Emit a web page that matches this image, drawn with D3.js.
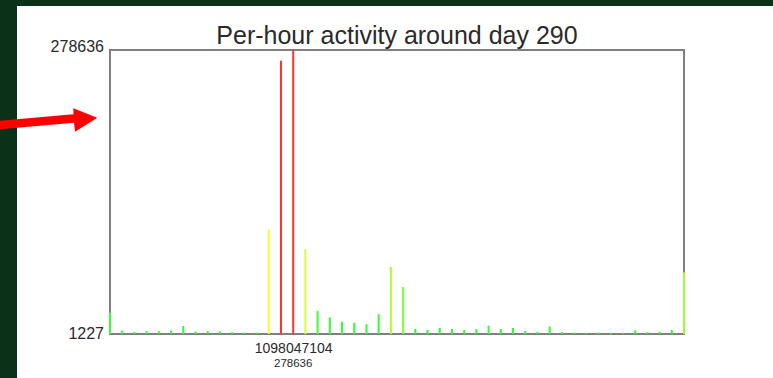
<!DOCTYPE html>
<html>
<head>
<meta charset="utf-8">
<script src="https://cdn.jsdelivr.net/npm/d3@7/dist/d3.min.js"></script>
<style>
  html, body { margin: 0; padding: 0; background: #0b3219; }
  svg { display: block; }
</style>
</head>
<body>
<svg id="chart" width="773" height="378"></svg>
<script>
// Hourly activity counts, two days around day 290
const hourlyCounts = [
  22200, 4600, 3200, 4000, 4000, 4500, 9000, 3500, 4000, 3800, 3000, 2600,
  2600, 103500, 268200, 278636, 84300, 24000, 17500, 13200, 12300, 10700, 20500, 66700,
  47100, 6100, 5100, 7100, 6100, 5100, 6100, 9400, 6100, 7100, 4100, 3400,
  8500, 3000, 2600, 2400, 2600, 2400, 2400, 4800, 3000, 3400, 5100, 61500
];
const peakTimestamp = 1098047104;
const yTickValues = [1227, 278636];
const titleText = "Per-hour activity around day 290";

const svg = d3.select("#chart");
const W = 773, H = 378;
const plot = { left: 110, right: 684, top: 50, bottom: 334 };
const font = "'Liberation Sans', Arial, Helvetica, sans-serif";

// white panel on the dark frame
svg.append("rect").attr("x", 17).attr("y", 6).attr("width", W - 17).attr("height", H - 6).attr("fill", "#ffffff");

const hours = d3.range(hourlyCounts.length);
const x = d3.scaleLinear().domain([0, hours.length - 1]).range([plot.left, plot.right]);
const y = d3.scaleLinear().domain(yTickValues).range([plot.bottom, plot.top]);
const color = d3.scaleLinear()
  .domain([yTickValues[0], 20000, 100000, 200000])
  .range(["#22ff33", "#33ff33", "#ffff33", "#ff3333"])
  .clamp(true);

// title
svg.append("text")
  .attr("x", (plot.left + plot.right) / 2).attr("y", 44)
  .attr("text-anchor", "middle")
  .attr("font-family", font).attr("font-size", 25).attr("fill", "#2a2a2a")
  .text(titleText);

// plot frame
svg.append("rect")
  .attr("x", plot.left).attr("y", plot.top)
  .attr("width", plot.right - plot.left).attr("height", plot.bottom - plot.top)
  .attr("fill", "none").attr("stroke", "#808080").attr("stroke-width", 2);

// y extent labels
svg.append("text").attr("x", 104).attr("y", y(yTickValues[1]) + 2)
  .attr("text-anchor", "end").attr("font-family", font).attr("font-size", 16).attr("fill", "#2a2a2a")
  .text(yTickValues[1]);
svg.append("text").attr("x", 104).attr("y", y(yTickValues[0]) + 5)
  .attr("text-anchor", "end").attr("font-family", font).attr("font-size", 16).attr("fill", "#2a2a2a")
  .text(yTickValues[0]);

// hourly spikes
svg.append("g").selectAll("line").data(hourlyCounts).join("line")
  .attr("x1", (d, i) => x(i)).attr("x2", (d, i) => x(i))
  .attr("y1", y(yTickValues[0])).attr("y2", d => y(d))
  .attr("stroke", d => color(d)).attr("stroke-width", 2);

// peak hour label on the x axis
const peakIndex = hourlyCounts.indexOf(d3.max(hourlyCounts));
const xAxis = d3.axisBottom(x).tickValues([peakIndex]).tickSize(0).tickPadding(0)
  .tickFormat(() => peakTimestamp);
const gx = svg.append("g").attr("transform", `translate(0,${plot.bottom})`).call(xAxis);
gx.select(".domain").remove();
gx.selectAll("text").attr("y", 19).attr("dy", null)
  .attr("font-family", font).attr("font-size", 14).attr("fill", "#2a2a2a");
svg.append("text").attr("x", x(peakIndex)).attr("y", 366.5)
  .attr("text-anchor", "middle").attr("font-family", font).attr("font-size", 11.5).attr("fill", "#2a2a2a")
  .text(d3.max(hourlyCounts));

// pointer arrow
svg.append("polygon")
  .attr("points", "0,120.7 73.5,114.3 73.3,108.3 97.3,117.7 75,131.7 74,122.7 0,129.3")
  .attr("fill", "#ff0000");
</script>
</body>
</html>
